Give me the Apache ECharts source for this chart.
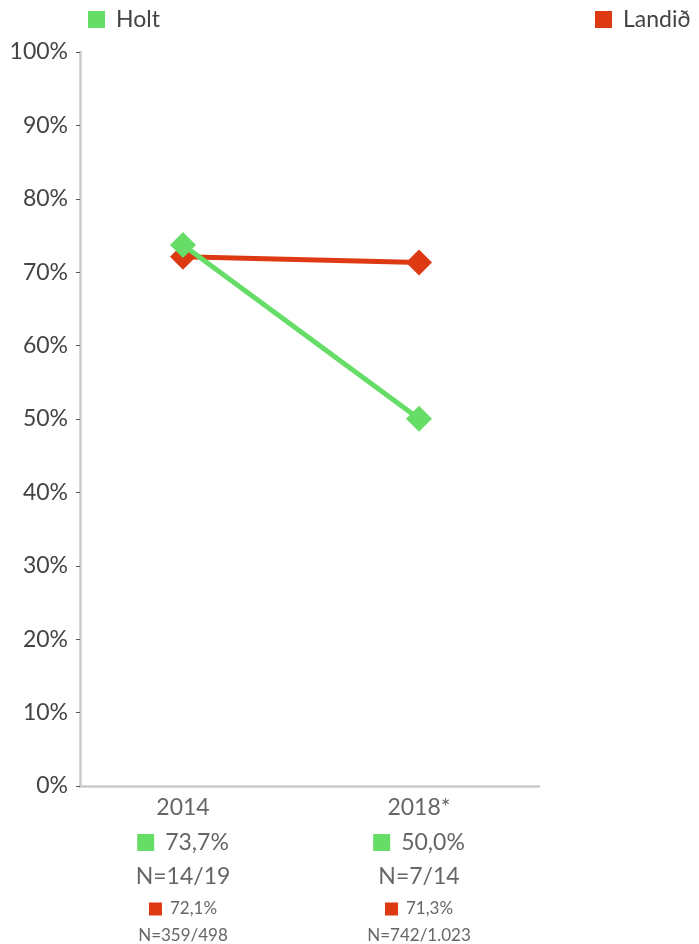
<!DOCTYPE html>
<html>
<head>
<meta charset="utf-8">
<script src="https://cdn.jsdelivr.net/npm/echarts@6/dist/echarts.min.js"></script>
<style>
  html, body { margin: 0; padding: 0; background: #fff; }
  #chart { width: 699px; height: 944px; }
</style>
</head>
<body>
<div id="chart"></div>
<script>
// Survey years and shares (%) for Holt and the whole country
const categories = ['2014', '2018*'];
const holtValues = [73.7, 50.0];
const landidValues = [72.1, 71.3];
const holtN = ['14/19', '7/14'];
const landidN = ['359/498', '742/1.023'];

const GREEN = '#66dd66';
const RED = '#dd3a14';
const FONT = 'Lato, "Noto Sans", sans-serif';

const fmt = v => v.toFixed(1).replace('.', ',') + '%';

const chart = echarts.init(document.getElementById('chart'), null, { renderer: 'canvas' });

const legendText = { fontSize: 23, color: '#444', fontFamily: FONT, padding: [0, 0, 0, 6] };

const option = {
  animation: false,
  textStyle: { fontFamily: FONT },
  legend: [
    { left: 88, top: 8, padding: 0, icon: 'rect', itemWidth: 17, itemHeight: 17,
      textStyle: legendText, data: ['Holt'] },
    { left: 595, top: 8, padding: 0, icon: 'rect', itemWidth: 17, itemHeight: 17,
      textStyle: legendText, data: ['Landið'] }
  ],
  grid: [
    // frame with the visible axes
    { left: 80, right: 160, top: 52, bottom: 158 },
    // plotting area whose category bands place the points
    { left: 65, right: 162, top: 52, bottom: 158 }
  ],
  xAxis: [
    {
      gridIndex: 0, type: 'value', min: 0, max: 1,
      axisLine: { show: true, lineStyle: { color: '#cacaca', width: 2.5 } },
      axisTick: { show: false }, axisLabel: { show: false }, splitLine: { show: false }
    },
    {
      gridIndex: 1, type: 'category', data: categories, boundaryGap: true,
      axisLine: { show: false }, axisTick: { show: false },
      axisLabel: {
        margin: 5,
        interval: 0,
        formatter: (val, idx) => [
          '{yr|' + val + '}',
          '{gs|}{gv|' + fmt(holtValues[idx]) + '}',
          '{gn|N=' + holtN[idx] + '}',
          '{rs|}{rv|' + fmt(landidValues[idx]) + '}',
          '{rn|N=' + landidN[idx] + '}'
        ].join('\n'),
        rich: {
          yr: { fontSize: 23, color: '#666', lineHeight: 34, fontFamily: FONT },
          gs: { width: 17, height: 17, backgroundColor: GREEN },
          gv: { fontSize: 23, color: '#666', lineHeight: 36, fontFamily: FONT, padding: [0, 0, 0, 11] },
          gn: { fontSize: 23, color: '#666', lineHeight: 33, fontFamily: FONT },
          rs: { width: 13, height: 13, backgroundColor: RED },
          rv: { fontSize: 17, color: '#666', lineHeight: 31, fontFamily: FONT, padding: [0, 0, 0, 8] },
          rn: { fontSize: 17, color: '#666', lineHeight: 22, fontFamily: FONT }
        }
      }
    }
  ],
  yAxis: [
    {
      gridIndex: 0, type: 'value', min: 0, max: 100, interval: 10,
      axisLine: { show: true, lineStyle: { color: '#cacaca', width: 2.5 } },
      axisTick: { show: true, length: 4, lineStyle: { color: '#555', width: 1 } },
      axisLabel: {
        margin: 12, fontSize: 23, color: '#444', fontFamily: FONT,
        formatter: v => v + '%'
      },
      splitLine: { show: false }
    },
    {
      gridIndex: 1, type: 'value', min: 0, max: 100, interval: 10, show: false
    }
  ],
  series: [
    {
      name: 'Holt', type: 'line', xAxisIndex: 1, yAxisIndex: 1,
      data: holtValues,
      color: GREEN,
      symbol: 'diamond', symbolSize: 26,
      lineStyle: { width: 5, color: GREEN },
      itemStyle: { color: GREEN },
      z: 3
    },
    {
      name: 'Landið', type: 'line', xAxisIndex: 1, yAxisIndex: 1,
      data: landidValues,
      color: RED,
      symbol: 'diamond', symbolSize: 26,
      lineStyle: { width: 5, color: RED },
      itemStyle: { color: RED },
      z: 2
    }
  ]
};

chart.setOption(option);
</script>
</body>
</html>
